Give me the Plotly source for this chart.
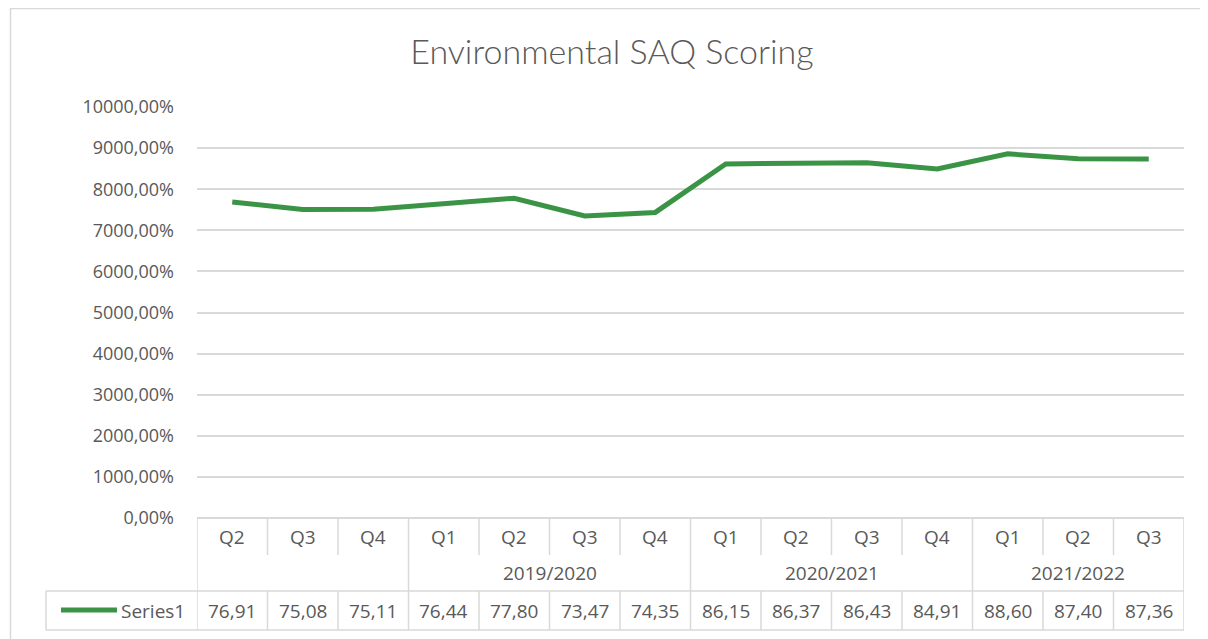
import plotly.graph_objects as go

quarters = ["Q2", "Q3", "Q4", "Q1", "Q2", "Q3", "Q4", "Q1", "Q2", "Q3", "Q4", "Q1", "Q2", "Q3"]
groups = ["", "2019/2020", "2020/2021", "2021/2022"]
group_sizes = [3, 4, 4, 3]
series_name = "Series1"
values = [76.91, 75.08, 75.11, 76.44, 77.80, 73.47, 74.35, 86.15, 86.37, 86.43, 84.91, 88.60, 87.40, 87.36]
y_ticks = [0, 1000, 2000, 3000, 4000, 5000, 6000, 7000, 8000, 9000, 10000]
y_tick_text = [f"{v:.2f}".replace(".", ",") + "%" for v in y_ticks]

OFF = 8  # page body margin
W, H = 1208 - OFF, 639 - OFF
L, R, T, B = 197, 1184, 107, 518  # page pixel positions
GREEN = "#3b9446"
GRID = "#d9d9d9"
TXT = "#595959"
FONT = "Open Sans"

def px_x(p):
    return (p - L) / (R - L)

def px_y(p):
    return (B - p) / (B - T)

n = len(values)
xs = list(range(n))

fig = go.Figure()
fig.add_trace(go.Scatter(
    x=xs, y=[v * 100 for v in values], mode="lines", name=series_name,
    line=dict(color=GREEN, width=5), hoverinfo="skip", showlegend=False,
))

shapes = []
def hline(y0px, x0, x1, xref="paper"):
    shapes.append(dict(type="line", xref=xref, yref="paper", x0=x0, x1=x1,
                       y0=px_y(y0px), y1=px_y(y0px), line=dict(color=GRID, width=1.5)))
def vline(x, y0px, y1px, xref="x"):
    shapes.append(dict(type="line", xref=xref, yref="paper", x0=x, x1=x,
                       y0=px_y(y0px), y1=px_y(y1px), line=dict(color=GRID, width=1.5)))

# outer chart border
shapes.append(dict(type="line", xref="paper", yref="paper", x0=px_x(10), x1=px_x(1230),
                   y0=px_y(8.5), y1=px_y(8.5), line=dict(color=GRID, width=1.5)))
shapes.append(dict(type="line", xref="paper", yref="paper", x0=px_x(10.5), x1=px_x(10.5),
                   y0=px_y(8), y1=px_y(660), line=dict(color=GRID, width=1.5)))

# table
ROW1, ROW2, ROW3, ROW4 = 518, 555, 591, 630
hline(ROW3, px_x(46), 1.0)
hline(ROW4, px_x(46), 1.0)
vline(px_x(46), ROW3, ROW4, xref="paper")
boundaries = []
acc = 0
for s in group_sizes:
    acc += s
    boundaries.append(acc - 0.5)
for k in range(n + 1):
    b = k - 0.5
    if k == 0 or k == n or b in boundaries:
        vline(b, ROW1, ROW4)
    else:
        vline(b, ROW1, ROW2)
        vline(b, ROW3, ROW4)
# legend sample line
shapes.append(dict(type="line", xref="paper", yref="paper", x0=px_x(61), x1=px_x(117),
                   y0=px_y(610), y1=px_y(610), line=dict(color=GREEN, width=5)))

annotations = []
tf = dict(family=FONT, size=19, color=TXT)
for i, q in enumerate(quarters):
    annotations.append(dict(x=i, y=px_y(537), xref="x", yref="paper", text=q, showarrow=False,
                            yanchor="middle", font=tf))
    annotations.append(dict(x=i, y=px_y(611), xref="x", yref="paper",
                            text=f"{values[i]:.2f}".replace(".", ","), showarrow=False,
                            yanchor="middle", font=tf))
start = 0
for g, s in zip(groups, group_sizes):
    if g:
        annotations.append(dict(x=start + (s - 1) / 2, y=px_y(573), xref="x", yref="paper", text=g,
                                showarrow=False, yanchor="middle", font=tf))
    start += s
annotations.append(dict(x=px_x(119), y=px_y(611), xref="paper", yref="paper", text=series_name,
                        xanchor="left", yanchor="middle", showarrow=False, font=tf))

fig.update_layout(
    width=W, height=H,
    margin=dict(l=L - OFF, r=W - (R - OFF), t=T - OFF, b=H - (B - OFF), pad=0),
    paper_bgcolor="white", plot_bgcolor="white",
    title=dict(text="Environmental SAQ Scoring", x=(612 - OFF) / W, xref="container", xanchor="center",
               y=1 - (52 - OFF) / H, yref="container", yanchor="middle",
               font=dict(family="Lato", size=34, color=TXT, weight=300)),
    xaxis=dict(range=[-0.5, n - 0.5], showticklabels=False, showgrid=False, zeroline=False,
               showline=False, fixedrange=True),
    yaxis=dict(range=[0, 10000], tickvals=y_ticks, ticktext=y_tick_text,
               showgrid=True, gridcolor=GRID, gridwidth=1.5, zeroline=True, zerolinecolor=GRID,
               zerolinewidth=1.5, ticklabelstandoff=22,
               tickfont=dict(family=FONT, size=18, color=TXT), fixedrange=True),
    shapes=shapes, annotations=annotations,
)
fig.write_html("out.html")
